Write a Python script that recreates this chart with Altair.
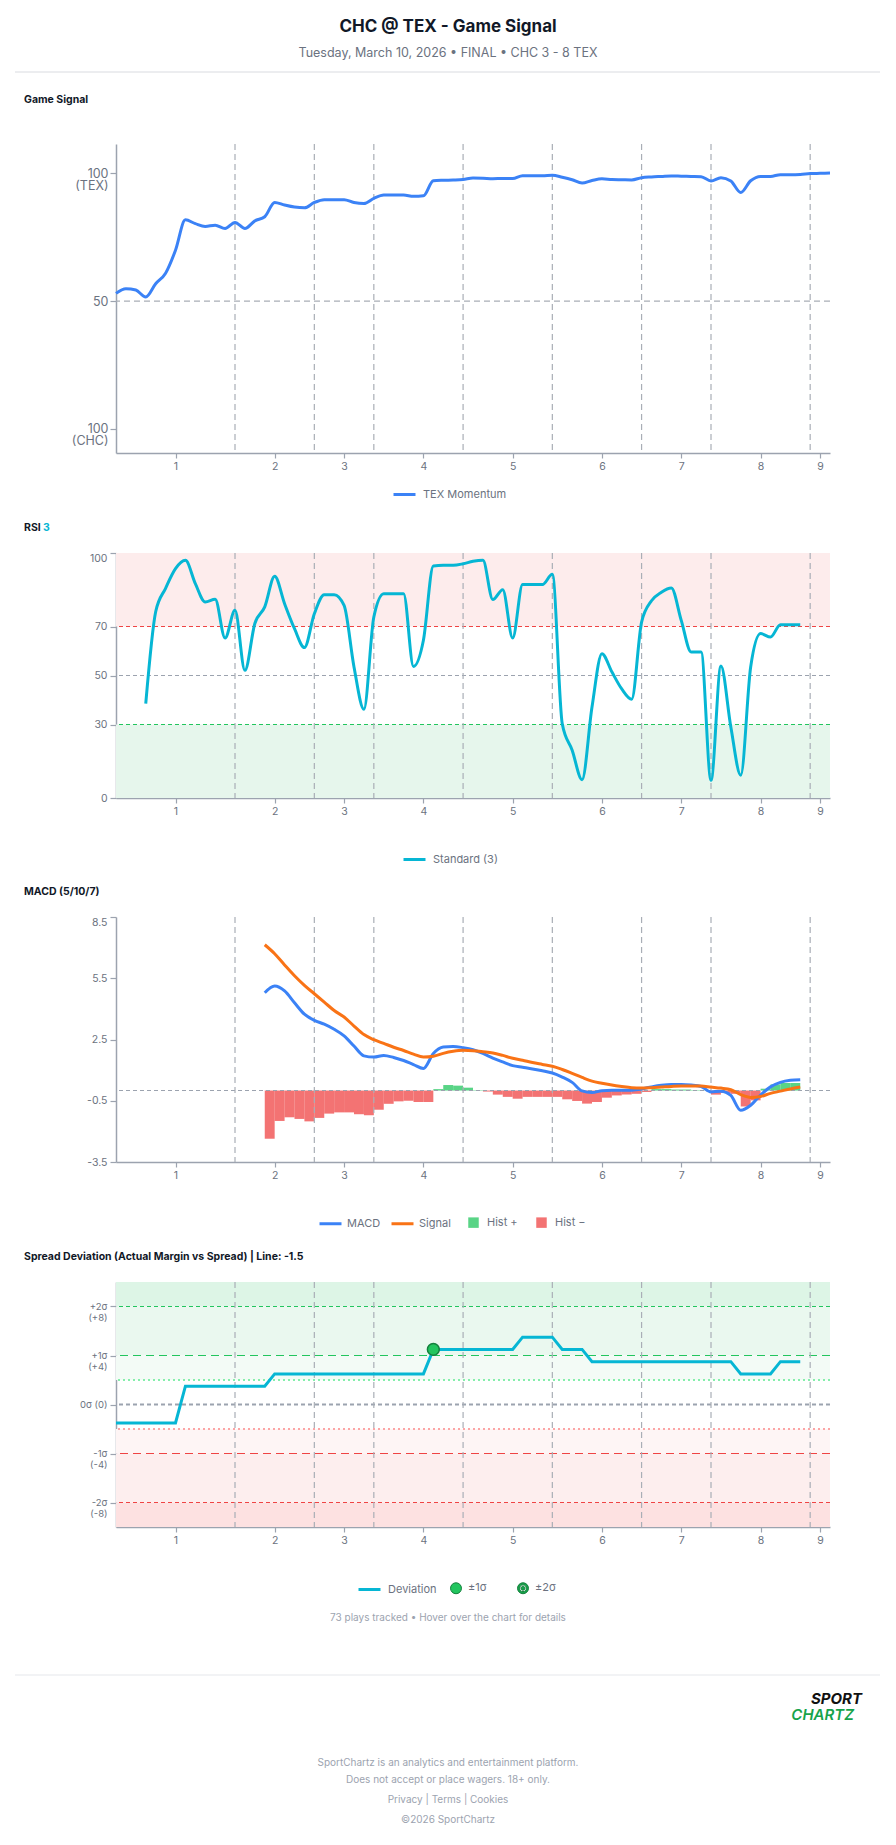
import json
import altair as alt
import pandas as pd

FONT = "Inter"
TITLE = "CHC @ TEX - Game Signal"
SUBTITLE = "Tuesday, March 10, 2026 • FINAL • CHC 3 - 8 TEX"
GS_TITLE = "Game Signal"
RSI_TITLE = ["RSI", "3"]
MACD_TITLE = "MACD (5/10/7)"
SPREAD_TITLE = "Spread Deviation (Actual Margin vs Spread) | Line: -1.5"
FOOTNOTE = "73 plays tracked • Hover over the chart for details"
FOOTER_LINES = ["SportChartz is an analytics and entertainment platform.",
                "Does not accept or place wagers. 18+ only.",
                "Privacy | Terms | Cookies",
                "©2026 SportChartz"]
LOGO = ["SPORT", "CHARTZ"]

# x axis: play index, innings labelled at their first play
tick_plays = [6, 16, 23, 31, 40, 49, 57, 65, 71]
inning_labels = ["1", "2", "3", "4", "5", "6", "7", "8", "9"]
half_inning_breaks = [12, 20, 26, 35, 44, 53, 60, 70]

# Game signal (50 = even, 100 = TEX, 0 = CHC)
gs_play = list(range(73))
gs_value = [53.0, 54.8, 54.3, 51.6, 56.8, 60.9, 69.9, 81.8, 80.3, 79.2,
            79.7, 78.4, 80.8, 78.4, 81.4, 83.0, 88.6, 87.6, 86.8, 86.5,
            88.6, 89.7, 89.7, 89.7, 88.6, 88.2, 90.2, 91.5, 91.5, 91.5,
            91.0, 91.2, 97.1, 97.3, 97.4, 97.6, 98.2, 98.1, 97.9, 98.0,
            98.0, 99.1, 99.1, 99.1, 99.3, 98.5, 97.5, 96.2, 97.2, 97.9,
            97.6, 97.5, 97.4, 98.3, 98.6, 98.8, 99.0, 98.9, 98.8, 98.7,
            97.0, 98.3, 97.0, 92.5, 97.1, 98.8, 98.8, 99.5, 99.5, 99.6,
            99.9, 100.0, 100.1]
gs_ticks = [0, 50, 100]
gs_tick_labels = [["100", "(CHC)"], "50", ["100", "(TEX)"]]

# RSI (3)
rsi_play = list(range(3, 70))
rsi_value = [38.5, 76.0, 85.6, 93.6, 97.0, 87.5, 80.0, 81.1, 65.3, 76.6,
             52.1, 71.2, 78.0, 90.5, 79.3, 69.1, 61.4, 75.2, 83.0, 83.0,
             78.6, 53.5, 36.2, 73.9, 83.4, 83.4, 83.4, 53.7, 64.4, 94.7,
             95.0, 95.0, 95.6, 96.6, 97.0, 81.0, 85.0, 65.3, 87.1, 87.1,
             87.1, 91.3, 30.3, 19.5, 7.5, 37.1, 58.9, 51.5, 44.5, 40.3,
             71.8, 80.5, 84.0, 85.7, 72.5, 59.6, 59.6, 7.2, 53.9, 29.0,
             9.3, 53.5, 67.1, 65.7, 70.7, 70.7, 70.7]
rsi_ticks = [0, 30, 50, 70, 100]
rsi_zone_lo = [70, 0]
rsi_zone_hi = [100, 30]
rsi_zone_color = ["#fdecec", "#e6f6ec"]
rsi_levels = [70, 50, 30]
rsi_level_colors = ["#ef4444", "#9ca3af", "#22c55e"]

# MACD (5/10/7)
macd_play = list(range(15, 70))
macd_value = [4.79, 5.12, 4.88, 4.30, 3.74, 3.44, 3.25, 3.00, 2.68, 2.18,
              1.70, 1.64, 1.72, 1.62, 1.47, 1.27, 1.08, 1.81, 2.13, 2.16,
              2.10, 2.00, 1.82, 1.59, 1.40, 1.22, 1.14, 1.06, 0.97, 0.86,
              0.66, 0.40, -0.02, -0.10, -0.01, 0.01, 0.01, 0.02, 0.08, 0.18,
              0.26, 0.30, 0.30, 0.27, 0.20, -0.07, -0.03, -0.24, -0.97, -0.72,
              -0.22, 0.18, 0.40, 0.50, 0.53]
signal_value = [7.14, 6.70, 6.15, 5.62, 5.15, 4.74, 4.33, 3.92, 3.60, 3.16,
                2.74, 2.49, 2.31, 2.12, 1.96, 1.78, 1.64, 1.68, 1.82, 1.92,
                1.97, 1.95, 1.90, 1.84, 1.72, 1.58, 1.48, 1.37, 1.28, 1.19,
                1.03, 0.84, 0.64, 0.46, 0.36, 0.27, 0.20, 0.14, 0.12, 0.14,
                0.17, 0.20, 0.22, 0.22, 0.22, 0.17, 0.12, 0.04, -0.20, -0.34,
                -0.29, -0.14, -0.03, 0.08, 0.17]
hist_play = list(range(15, 69))
hist_value = [-2.36, -1.49, -1.31, -1.39, -1.51, -1.34, -1.13, -1.07, -1.07, -1.16,
              -1.21, -0.94, -0.65, -0.53, -0.50, -0.56, -0.56, 0.07, 0.27, 0.24,
              0.14, 0.02, -0.05, -0.20, -0.31, -0.40, -0.31, -0.31, -0.31, -0.31,
              -0.43, -0.51, -0.64, -0.56, -0.35, -0.24, -0.19, -0.16, -0.07, 0.07,
              0.07, 0.05, 0.05, 0.02, 0.01, -0.20, -0.12, -0.16, -0.78, -0.48,
              0.09, 0.30, 0.37, 0.37]
macd_ticks = [-3.5, -0.5, 2.5, 5.5, 8.5]
macd_tick_labels = ["-3.5", "-0.5", "2.5", "5.5", "8.5"]

# Spread deviation
spread_play = [0, 6, 7, 15, 16, 31, 32, 40, 41, 44, 45, 47, 48, 62, 63, 66, 67, 69]
spread_dev = [-1.5, -1.5, 1.5, 1.5, 2.5, 2.5, 4.5, 4.5, 5.5, 5.5, 4.5, 4.5,
              3.5, 3.5, 2.5, 2.5, 3.5, 3.5]
marker_play = [32]
marker_dev = [4.5]
marker_kind = ["±1σ"]
spread_ticks = [-8, -4, 0, 4, 8]
spread_tick_labels = [["-2σ", "(-8)"], ["-1σ", "(-4)"], "0σ (0)", ["+1σ", "(+4)"], ["+2σ", "(+8)"]]
spread_band_lo = [8, 4, 2, -4, -8, -10]
spread_band_hi = [10, 8, 4, -2, -4, -8]
spread_band_color = ["#ddf5e6", "#eaf8ef", "#f3fbf6", "#fef5f5", "#fdeeee", "#fde1e1"]
spread_levels = [8, 4, 2, 0, -2, -4, -8]
spread_level_colors = ["#22c55e", "#22c55e", "#86efac", "#9ca3af", "#fca5a5", "#ef4444", "#ef4444"]
spread_level_dash = [[4, 3], [8, 5], [2, 3], [4, 3], [2, 3], [8, 5], [4, 3]]
spread_level_width = [1.2, 1.2, 2.0, 2.2, 2.0, 1.2, 1.2]

RING = ("M -1 0 A 1 1 0 1 0 1 0 A 1 1 0 1 0 -1 0 Z "
        "M -0.62 0 A 0.62 0.62 0 1 1 0.62 0 A 0.62 0.62 0 1 1 -0.62 0 Z "
        "M -0.36 0 A 0.36 0.36 0 1 0 0.36 0 A 0.36 0.36 0 1 0 -0.36 0 Z")

W = 714
H_GS = 309
H = 245
GREY_RULE = "#a9aeb6"


def label_expr(values, labels):
    expr = "''"
    for v, lab in reversed(list(zip(values, labels))):
        expr = f"datum.value === {v} ? {json.dumps(lab, ensure_ascii=False)} : {expr}"
    return expr


x_scale = alt.Scale(domain=[0, 72], nice=False, zero=False)
x_axis = alt.Axis(values=tick_plays, labelExpr=label_expr(tick_plays, inning_labels),
                  title=None, grid=False, tickSize=5, labelFlush=False,
                  labelPadding=3, labelFontSize=10.5)


def X(field):
    return alt.X(f"{field}:Q", scale=x_scale, axis=x_axis)


def legend(x, y, symbol="stroke", size=484, stroke_w=3, offset=6, pad=20):
    kw = dict(orient="none", legendX=x, legendY=y, direction="horizontal", title=None,
              symbolSize=size, symbolStrokeWidth=stroke_w, labelFont=FONT,
              labelFontSize=11, labelColor="#6b7280", labelOffset=offset,
              columnPadding=pad, padding=0)
    if symbol:
        kw["symbolType"] = symbol
    return alt.Legend(**kw)


def one():
    return alt.Chart(pd.DataFrame({"k": [0]}))


def text_at(txt, x, y, size=11, weight="bold", color="#111827", align="left", style="normal"):
    return one().mark_text(text=txt, font=FONT, fontSize=size, fontWeight=weight,
                           fontStyle=style, color=color, align=align,
                           baseline="middle").encode(x=alt.value(x), y=alt.value(y))


def vrules():
    return alt.Chart(pd.DataFrame({"play": half_inning_breaks})).mark_rule(
        strokeDash=[6, 4], color=GREY_RULE, strokeWidth=1.2).encode(x=X("play"))


def band(lo, hi, color, yscale, yaxis):
    return alt.Chart(pd.DataFrame({"lo": [lo], "hi": [hi]})).mark_rect(color=color).encode(
        y=alt.Y("lo:Q", scale=yscale, axis=yaxis), y2="hi:Q")


def hline(v, color, dash, width, yscale, yaxis):
    return alt.Chart(pd.DataFrame({"v": [v]})).mark_rule(strokeDash=dash, color=color, strokeWidth=width) \
        .encode(y=alt.Y("v:Q", scale=yscale, axis=yaxis))


def anchor(h):
    # invisible frame that pins the page bounds (0..896 wide)
    return one().mark_rect(opacity=0).encode(x=alt.value(-116), x2=alt.value(780),
                                             y=alt.value(0), y2=alt.value(h))


def spacer(h):
    return one().mark_point(opacity=0).encode(x=alt.value(0), y=alt.value(0)).properties(width=W, height=h)


# ---------------- header ----------------
header = alt.layer(
    anchor(144),
    text_at(TITLE, 332, 27, size=17, align="center"),
    text_at(SUBTITLE, 332, 53, size=12.5, weight="normal", color="#6b7280", align="center"),
    one().mark_rule(color="#d9dbe0", strokeWidth=1).encode(x=alt.value(-101), x2=alt.value(764), y=alt.value(72)),
).properties(width=W, height=144)

# ---------------- game signal ----------------
gs_y = alt.Scale(domain=[-9.5, 111.5], nice=False, zero=False)
gs_axis = alt.Axis(values=gs_ticks, labelExpr=label_expr(gs_ticks, gs_tick_labels), title=None,
                   grid=False, tickSize=6, labelFontSize=12.5, labelLineHeight=12, labelPadding=2)
gs_df = pd.DataFrame({"play": gs_play, "value": gs_value, "series": "TEX Momentum"})
gs_panel = alt.layer(
    hline(50, GREY_RULE, [6, 4], 1.2, gs_y, gs_axis),
    vrules(),
    alt.Chart(gs_df).mark_line(interpolate="monotone", strokeWidth=3).encode(
        x=X("play"), y=alt.Y("value:Q", scale=gs_y, axis=gs_axis),
        stroke=alt.Stroke("series:N", scale=alt.Scale(domain=["TEX Momentum"], range=["#3b82f6"]),
                          legend=legend(276, 338))),
    text_at(GS_TITLE, -92, -44.5, size=10.5),
).properties(width=W, height=H_GS)

# ---------------- RSI ----------------
rsi_y = alt.Scale(domain=[0, 100], nice=False)
rsi_axis = alt.Axis(values=rsi_ticks, title=None, grid=False, tickSize=6, labelFontSize=10.5,
                    labelPadding=3,
                    labelBaseline={"condition": {"test": "datum.value === 100", "value": "top"}, "value": "middle"})
rsi_layers = [band(lo, hi, c, rsi_y, rsi_axis) for lo, hi, c in zip(rsi_zone_lo, rsi_zone_hi, rsi_zone_color)]
rsi_layers += [hline(l, c, [4, 3], 1.2, rsi_y, rsi_axis) for l, c in zip(rsi_levels, rsi_level_colors)]
rsi_df = pd.DataFrame({"play": rsi_play, "value": rsi_value, "series": "Standard (3)"})
rsi_layers += [
    vrules(),
    alt.Chart(rsi_df).mark_line(interpolate="monotone", strokeWidth=3).encode(
        x=X("play"), y=alt.Y("value:Q", scale=rsi_y, axis=rsi_axis),
        stroke=alt.Stroke("series:N", scale=alt.Scale(domain=["Standard (3)"], range=["#06b6d4"]),
                          legend=legend(286, 294))),
    text_at(RSI_TITLE[0], -92, -25, size=10.5),
    text_at(RSI_TITLE[1], -73, -25, size=10.5, color="#06b6d4"),
]
rsi_panel = alt.layer(*rsi_layers).properties(width=W, height=H)

# ---------------- MACD ----------------
macd_y = alt.Scale(domain=[-3.5, 8.5], nice=False, zero=False)
macd_axis = alt.Axis(values=macd_ticks, labelExpr=label_expr(macd_ticks, macd_tick_labels), title=None,
                     grid=False, tickSize=6, labelFontSize=10.5, labelPadding=3,
                     labelBaseline={"condition": {"test": "datum.value === 8.5", "value": "top"}, "value": "middle"})
lines_df = pd.concat([
    pd.DataFrame({"play": macd_play, "value": macd_value, "series": "MACD"}),
    pd.DataFrame({"play": macd_play, "value": signal_value, "series": "Signal"}),
])
hist_df = pd.DataFrame({"play": hist_play, "h": hist_value})
macd_panel = alt.layer(
    alt.Chart(hist_df).transform_calculate(
        play_end="datum.play + 1",
        sign="datum.h >= 0 ? 'Hist +' : 'Hist −'"
    ).mark_rect(opacity=0.75).encode(
        x=X("play"), x2="play_end:Q",
        y=alt.Y("h:Q", scale=macd_y, axis=macd_axis), y2=alt.datum(0),
        fill=alt.Fill("sign:N", scale=alt.Scale(domain=["Hist +", "Hist −"], range=["#22c55e", "#ef4444"]),
                      legend=legend(352, 300, symbol="square", size=110, stroke_w=0, offset=8, pad=18))),
    hline(0, "#9ca3af", [4, 3], 1.1, macd_y, macd_axis),
    vrules(),
    alt.Chart(lines_df).mark_line(interpolate="monotone", strokeWidth=3).encode(
        x=X("play"), y=alt.Y("value:Q", scale=macd_y, axis=macd_axis),
        stroke=alt.Stroke("series:N", scale=alt.Scale(domain=["MACD", "Signal"], range=["#3b82f6", "#f97316"]),
                          legend=legend(202, 294, offset=4, pad=4))),
    text_at(MACD_TITLE, -92, -25, size=10.5),
).properties(width=W, height=H)

# ---------------- Spread deviation ----------------
sp_y = alt.Scale(domain=[-10, 10], nice=False, zero=False)
sp_axis = alt.Axis(values=spread_ticks, labelExpr=label_expr(spread_ticks, spread_tick_labels), title=None,
                   grid=False, tickSize=6, labelFontSize=9.5, labelLineHeight=11, labelPadding=3)
sp_layers = [band(lo, hi, c, sp_y, sp_axis) for lo, hi, c in zip(spread_band_lo, spread_band_hi, spread_band_color)]
sp_layers += [hline(l, c, d, w, sp_y, sp_axis) for l, c, d, w in
              zip(spread_levels, spread_level_colors, spread_level_dash, spread_level_width)]
sp_df = pd.DataFrame({"play": spread_play, "dev": spread_dev, "series": "Deviation"})
mk_df = pd.DataFrame({"play": marker_play, "dev": marker_dev, "kind": marker_kind})
mk_legend = legend(334, 300, symbol=None, size=120, stroke_w=1, offset=6, pad=28)
sp_layers += [
    vrules(),
    alt.Chart(sp_df).mark_line(strokeWidth=3).encode(
        x=X("play"), y=alt.Y("dev:Q", scale=sp_y, axis=sp_axis),
        stroke=alt.Stroke("series:N", scale=alt.Scale(domain=["Deviation"], range=["#06b6d4"]),
                          legend=legend(241, 295))),
    alt.Chart(mk_df).mark_point(filled=True, size=140, stroke="#15803d", strokeWidth=1.5, opacity=1).encode(
        x=X("play"), y=alt.Y("dev:Q", scale=sp_y, axis=sp_axis),
        fill=alt.Fill("kind:N", scale=alt.Scale(domain=["±1σ", "±2σ"], range=["#22c55e", "#16a34a"]), legend=mk_legend),
        shape=alt.Shape("kind:N", scale=alt.Scale(domain=["±1σ", "±2σ"], range=["circle", RING]), legend=mk_legend)),
    text_at(SPREAD_TITLE, -92, -25, size=10.5),
]
spread_panel = alt.layer(*sp_layers).properties(width=W, height=H)

# ---------------- footer ----------------
footer_layers = [
    anchor(318),
    text_at(FOOTNOTE, 332, 91, size=10, weight="normal", color="#9ca3af", align="center"),
    one().mark_rule(color="#e5e7eb", strokeWidth=1).encode(x=alt.value(-101), x2=alt.value(764), y=alt.value(148)),
    text_at(LOGO[0], 746, 172, size=15, weight="bold", color="#111111", align="right", style="italic"),
    text_at(LOGO[1], 738, 188, size=15, weight=600, color="#16a34a", align="right", style="italic"),
]
for line, yy in zip(FOOTER_LINES, [236, 253, 273, 293]):
    footer_layers.append(text_at(line, 332, yy, size=10, weight="normal", color="#9ca3af", align="center"))
footer = alt.layer(*footer_layers).properties(width=W, height=318)

chart = alt.vconcat(
    header, gs_panel, spacer(100), rsi_panel, spacer(119), macd_panel, spacer(120), spread_panel, footer,
    spacing=0, bounds="flush"
).resolve_scale(
    stroke="independent", fill="independent", shape="independent", color="independent"
).resolve_legend(
    stroke="independent", fill="independent", shape="independent", color="independent"
).properties(padding=0, background="white").configure_view(stroke=None).configure_axis(
    domainColor="#9ca3af", domainWidth=1.5, tickColor="#9ca3af", tickWidth=1.2,
    labelColor="#6b7280", labelFont=FONT
).configure_text(font=FONT)

chart.save("out.html", embed_options={"renderer": "svg", "actions": False})
